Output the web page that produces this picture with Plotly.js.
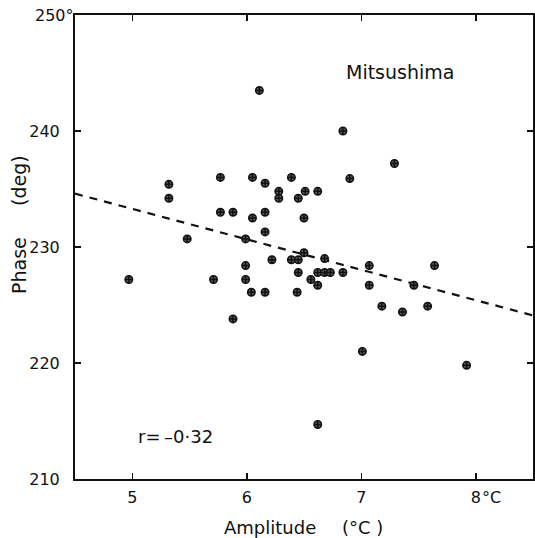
<!DOCTYPE html>
<html>
<head>
<meta charset="utf-8">
<script src="https://cdn.plot.ly/plotly-3.0.1.min.js"></script>
<style>html,body{margin:0;padding:0;background:#fff;}#chart{width:535px;height:538px;}</style>
</head>
<body>
<div id="chart"></div>
<script>
const amplitude = [6.11, 6.84, 7.29, 5.32, 5.32, 5.77, 6.05, 6.16, 6.39, 6.90, 6.28, 6.28, 6.45, 6.51, 6.62, 5.77, 5.88, 6.16, 6.05, 6.50, 6.16, 5.48, 5.99, 6.50, 6.22, 6.39, 6.45, 6.68, 5.99, 7.07, 7.64, 6.45, 6.62, 6.68, 6.73, 6.84, 4.97, 5.71, 5.99, 6.56, 6.62, 7.07, 7.46, 6.04, 6.16, 6.44, 7.18, 7.58, 7.36, 5.88, 7.01, 7.92, 6.62];
const phase = [243.5, 240.0, 237.2, 235.4, 234.2, 236.0, 236.0, 235.5, 236.0, 235.9, 234.8, 234.2, 234.2, 234.8, 234.8, 233.0, 233.0, 233.0, 232.5, 232.5, 231.3, 230.7, 230.7, 229.5, 228.9, 228.9, 228.9, 229.0, 228.4, 228.4, 228.4, 227.8, 227.8, 227.8, 227.8, 227.8, 227.2, 227.2, 227.2, 227.2, 226.7, 226.7, 226.7, 226.1, 226.1, 226.1, 224.9, 224.9, 224.4, 223.8, 221.0, 219.8, 214.7];
const fitX = [4.5, 8.5];
const fitY = [234.6, 224.1];
const xTicks = [5, 6, 7, 8];
const xTickLabels = ['5', '6', '7', '8'];
const yTicks = [210, 220, 230, 240, 250];
const yTickLabels = ['210', '220', '230', '240', ''];
const yTopLabel = '250\u00b0';
const xUnitSuffix = '\u00b0C';
const stationName = 'Mitsushima';
const corrText = 'r=\u2009\u20130\u00b732';

const FONT = 'DejaVu Sans, sans-serif';
const INK = '#111';

const traces = [
  {
    x: fitX, y: fitY, type: 'scatter', mode: 'lines',
    line: {color: INK, width: 2.2, dash: '8px,7px'},
    hoverinfo: 'skip', showlegend: false
  },
  {
    x: amplitude, y: phase, type: 'scatter', mode: 'markers',
    marker: {symbol: 'circle-cross', size: 7.5, color: '#555', line: {color: INK, width: 1.5}},
    showlegend: false
  }
];

const layout = {
  width: 535, height: 538,
  margin: {l: 75, r: 2, t: 15, b: 59},
  paper_bgcolor: '#fff', plot_bgcolor: '#fff',
  font: {family: FONT, color: INK, size: 16},
  showlegend: false,
  xaxis: {
    range: [4.5, 8.5], tickvals: xTicks, ticktext: xTickLabels,
    ticks: 'inside', ticklen: 6, tickwidth: 1.5, tickcolor: INK,
    showline: true, linewidth: 2, linecolor: INK, mirror: 'allticks',
    showgrid: false, zeroline: false,
    tickfont: {family: FONT, size: 16, color: INK},
    ticklabelstandoff: 3
  },
  yaxis: {
    range: [210, 250], tickvals: yTicks, ticktext: yTickLabels,
    ticks: 'inside', ticklen: 6, tickwidth: 1.5, tickcolor: INK,
    showline: true, linewidth: 2, linecolor: INK, mirror: 'allticks',
    showgrid: false, zeroline: false,
    tickfont: {family: FONT, size: 16, color: INK},
    ticklabelstandoff: 10
  },
  annotations: [
    {xref: 'x', yref: 'y', x: 7.34, y: 245.1, text: stationName, showarrow: false,
     xanchor: 'center', yanchor: 'middle', font: {family: FONT, size: 19, color: INK}},
    {xref: 'x', yref: 'y', x: 5.03, y: 213.7, text: corrText, showarrow: false,
     xanchor: 'left', yanchor: 'middle', font: {family: FONT, size: 18, color: INK}},
    {xref: 'paper', yref: 'y', x: 0, y: 250, text: yTopLabel, showarrow: false,
     xanchor: 'right', yanchor: 'middle', xshift: 1, yshift: 0, font: {family: FONT, size: 16, color: INK}},
    {xref: 'x', yref: 'paper', x: 8, y: 0, text: xUnitSuffix, showarrow: false,
     xanchor: 'left', yanchor: 'middle', xshift: 4, yshift: -18, font: {family: FONT, size: 16, color: INK}},
    {xref: 'paper', yref: 'paper', x: (270 - 75) / 458, y: 0, text: 'Amplitude', showarrow: false,
     xanchor: 'center', yanchor: 'middle', yshift: -48, font: {family: FONT, size: 18, color: INK}},
    {xref: 'paper', yref: 'paper', x: (362 - 75) / 458, y: 0, text: '(\u00b0C )', showarrow: false,
     xanchor: 'center', yanchor: 'middle', yshift: -48, font: {family: FONT, size: 18, color: INK}},
    {xref: 'paper', yref: 'paper', x: 0, y: (479 - 266) / 464, text: 'Phase', showarrow: false,
     textangle: -90, xanchor: 'center', yanchor: 'middle', xshift: -56, font: {family: FONT, size: 19, color: INK}},
    {xref: 'paper', yref: 'paper', x: 0, y: (479 - 181) / 464, text: '(deg)', showarrow: false,
     textangle: -90, xanchor: 'center', yanchor: 'middle', xshift: -56, font: {family: FONT, size: 19, color: INK}}
  ]
};

Plotly.newPlot('chart', traces, layout, {displayModeBar: false, staticPlot: true});
</script>
</body>
</html>
